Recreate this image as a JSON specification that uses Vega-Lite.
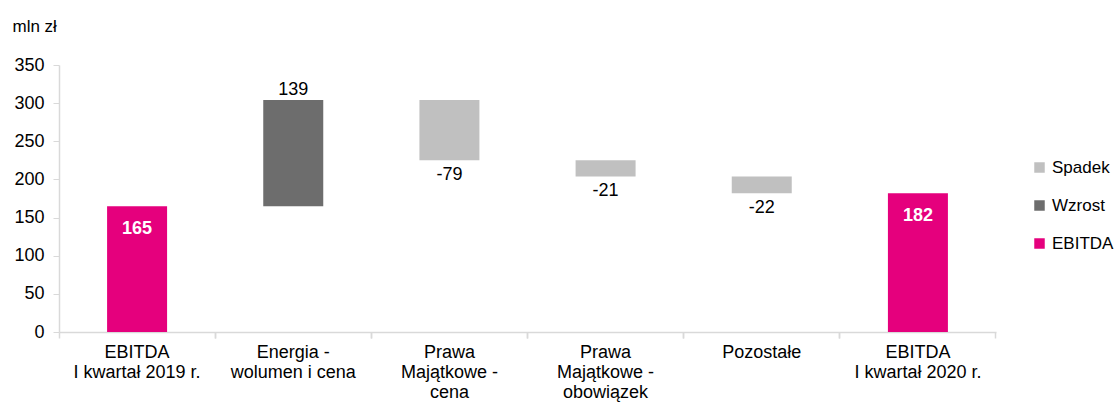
{
  "$schema": "https://vega.github.io/schema/vega-lite/v6.json",
  "width": 937,
  "height": 267,
  "autosize": {"type": "none"},
  "padding": {"left": 59, "top": 65, "right": 123, "bottom": 71},
  "background": "white",
  "config": {
    "font": "Liberation Sans",
    "view": {"stroke": null},
    "axis": {"labelFont": "Liberation Sans", "titleFont": "Liberation Sans"}
  },
  "data": {
    "values": [
      {"kat": "EBITDA\nI kwartał 2019 r.", "start": 0, "end": 165, "zmiana": 165, "typ": "EBITDA"},
      {"kat": "Energia -\nwolumen i cena", "start": 165, "end": 304, "zmiana": 139, "typ": "Wzrost"},
      {"kat": "Prawa\nMajątkowe -\ncena", "start": 304, "end": 225, "zmiana": -79, "typ": "Spadek"},
      {"kat": "Prawa\nMajątkowe -\nobowiązek", "start": 225, "end": 204, "zmiana": -21, "typ": "Spadek"},
      {"kat": "Pozostałe", "start": 204, "end": 182, "zmiana": -22, "typ": "Spadek"},
      {"kat": "EBITDA\nI kwartał 2020 r.", "start": 0, "end": 182, "zmiana": 182, "typ": "EBITDA"}
    ]
  },
  "resolve": {"axis": {"x": "independent", "y": "independent"}},
  "layer": [
    {
      "mark": {"type": "bar", "width": 60},
      "encoding": {
        "x": {
          "field": "kat", "type": "nominal", "sort": null,
          "scale": {"paddingInner": 0, "paddingOuter": 0},
          "axis": {
            "orient": "bottom", "title": null, "labelAngle": 0,
            "labelExpr": "split(datum.label, '\\n')",
            "labelFontSize": 18, "labelLineHeight": 20, "labelColor": "#000",
            "labelPadding": 11, "ticks": false,
            "domainColor": "#d9d9d9", "domainWidth": 1.5
          }
        },
        "y": {
          "field": "start", "type": "quantitative",
          "scale": {"domain": [0, 350]},
          "axis": {
            "orient": "left",
            "title": "mln zł", "titleAngle": 0, "titleAlign": "left",
            "titleBaseline": "alphabetic", "titleX": -47, "titleY": -34,
            "titleFontSize": 17, "titleFontWeight": "normal", "titleColor": "#000",
            "values": [0, 50, 100, 150, 200, 250, 300, 350],
            "labelOverlap": false,
            "labelFontSize": 18, "labelColor": "#000", "labelPadding": 9,
            "tickSize": 6, "tickColor": "#d9d9d9", "domainColor": "#d9d9d9",
            "domainWidth": 1.5, "grid": false
          }
        },
        "y2": {"field": "end"},
        "color": {
          "field": "typ", "type": "nominal",
          "scale": {"domain": ["Spadek", "Wzrost", "EBITDA"], "range": ["#c0c0c0", "#6d6d6d", "#e5007d"]},
          "legend": {
            "title": null, "orient": "none", "legendX": 972, "legendY": 94,
            "symbolType": "square", "symbolSize": 110, "symbolStrokeWidth": 0,
            "labelFontSize": 17, "labelColor": "#000", "labelOffset": 4,
            "rowPadding": 20
          }
        }
      }
    },
    {
      "transform": [{"filter": "datum.typ === 'Wzrost'"}],
      "mark": {"type": "text", "baseline": "alphabetic", "dy": -5, "fontSize": 18, "color": "#000"},
      "encoding": {
        "x": {
          "field": "kat", "type": "nominal", "sort": null,
          "axis": {"orient": "bottom", "labels": false, "domain": false, "ticks": true, "bandPosition": 0, "tickSize": 6, "tickColor": "#d9d9d9", "tickWidth": 1.5, "title": null}
        },
        "y": {"field": "end", "type": "quantitative", "axis": null},
        "text": {"field": "zmiana"}
      }
    },
    {
      "transform": [{"filter": "datum.typ === 'Spadek'"}],
      "mark": {"type": "text", "baseline": "top", "dy": 6, "fontSize": 18, "color": "#000"},
      "encoding": {
        "x": {
          "field": "kat", "type": "nominal", "sort": null,
          "axis": {"orient": "bottom", "labels": false, "domain": false, "ticks": true, "bandPosition": 1, "tickSize": 6, "tickColor": "#d9d9d9", "tickWidth": 1.5, "title": null}
        },
        "y": {"field": "end", "type": "quantitative", "axis": null},
        "text": {"field": "zmiana"}
      }
    },
    {
      "transform": [{"filter": "datum.typ === 'EBITDA'"}],
      "mark": {"type": "text", "baseline": "top", "dy": 14, "fontSize": 18, "fontWeight": "bold", "color": "white"},
      "encoding": {
        "x": {"field": "kat", "type": "nominal", "sort": null, "axis": null},
        "y": {"field": "end", "type": "quantitative", "axis": null},
        "text": {"field": "zmiana"}
      }
    }
  ]
}
